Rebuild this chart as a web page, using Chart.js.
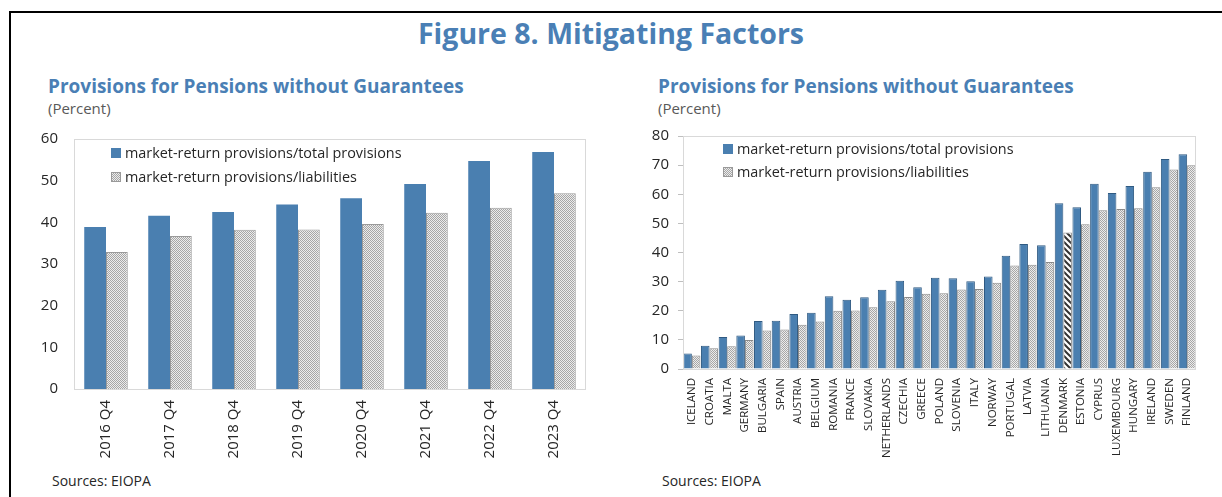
<!DOCTYPE html>
<html>
<head>
<meta charset="utf-8">
<script src="https://cdn.jsdelivr.net/npm/chart.js@4.4.1/dist/chart.umd.min.js"></script>
<style>
  html, body { margin: 0; padding: 0; background: #fff; }
  body { width: 1222px; height: 497px; position: relative; overflow: hidden; font-family: "Open Sans", "Noto Sans", sans-serif; }
  .frame-top { position: absolute; left: 10px; top: 11px; width: 1212px; height: 2px; background: #000; }
  .frame-left { position: absolute; left: 9px; top: 11px; width: 2px; height: 486px; background: #000; }
  .main-title { position: absolute; left: 0; width: 1222px; top: 14px; text-align: center; font-weight: 700; font-size: 28.5px; color: #4a7fb5; }
  .sub { position: absolute; font-weight: 700; font-size: 19px; color: #4a7fb5; }
  .unit { position: absolute; font-size: 15px; color: #595959; }
  .src { position: absolute; font-size: 14px; color: #262626; }
  .leg { position: absolute; font-size: 14.4px; color: #262626; white-space: nowrap; }
  .sw { position: absolute; width: 10px; height: 10px; }
  .sw-blue { background: #4a7fb0; border: 0; }
  .sw-gray { background: repeating-conic-gradient(#a6a6a6 0 25%, #ececec 0 50%) 0 0/2px 2px; outline: 1px solid #9a9a9a; outline-offset: -1px; }
  canvas { position: absolute; }
</style>
</head>
<body>
<div class="frame-top"></div>
<div class="frame-left"></div>
<div class="main-title">Figure 8. Mitigating Factors</div>

<div class="sub" style="left:48px; top:73px;">Provisions for Pensions without Guarantees</div>
<div class="unit" style="left:48px; top:98px;">(Percent)</div>
<div class="sub" style="left:658px; top:73px;">Provisions for Pensions without Guarantees</div>
<div class="unit" style="left:658px; top:98px;">(Percent)</div>

<div style="position:absolute; left:0; top:114px; width:600px; height:356px;"><canvas id="c1" width="600" height="356"></canvas></div>
<div style="position:absolute; left:610px; top:118px; width:612px; height:352px;"><canvas id="c2" width="612" height="352"></canvas></div>

<div class="sw sw-blue" style="left:111px; top:148px;"></div>
<div class="leg" style="left:125px; top:143px;">market-return provisions/total provisions</div>
<div class="sw sw-gray" style="left:111px; top:172px;"></div>
<div class="leg" style="left:125px; top:167px;">market-return provisions/liabilities</div>

<div class="sw sw-blue" style="left:723px; top:144px;"></div>
<div class="leg" style="left:737px; top:139px;">market-return provisions/total provisions</div>
<div class="sw sw-gray" style="left:723px; top:167px;"></div>
<div class="leg" style="left:737px; top:162px;">market-return provisions/liabilities</div>

<div class="src" style="left:52px; top:471px;">Sources: EIOPA</div>
<div class="src" style="left:662px; top:471px;">Sources: EIOPA</div>

<script>
// ---- Data ----
const quarters = ["2016 Q4","2017 Q4","2018 Q4","2019 Q4","2020 Q4","2021 Q4","2022 Q4","2023 Q4"];
const qTotalProv = [38.9, 41.6, 42.5, 44.3, 45.8, 49.2, 54.7, 56.9];
const qLiabilities = [32.9, 36.7, 38.2, 38.3, 39.6, 42.3, 43.5, 47.0];

const countries = ["ICELAND","CROATIA","MALTA","GERMANY","BULGARIA","SPAIN","AUSTRIA","BELGIUM","ROMANIA","FRANCE","SLOVAKIA","NETHERLANDS","CZECHIA","GREECE","POLAND","SLOVENIA","ITALY","NORWAY","PORTUGAL","LATVIA","LITHUANIA","DENMARK","ESTONIA","CYPRUS","LUXEMBOURG","HUNGARY","IRELAND","SWEDEN","FINLAND"];
const cTotalProv = [5.3, 8.0, 11.0, 11.5, 16.5, 16.6, 18.9, 19.3, 25.0, 23.8, 24.6, 27.2, 30.3, 28.1, 31.3, 31.2, 30.1, 31.8, 38.9, 42.9, 42.5, 56.9, 55.5, 63.6, 60.4, 62.8, 67.7, 72.1, 73.7];
const cLiabilities = [4.6, 7.1, 7.8, 10.0, 13.2, 13.6, 15.2, 16.3, 20.0, 20.1, 21.2, 23.3, 24.7, 25.8, 26.0, 27.3, 27.5, 29.6, 35.5, 35.8, 36.7, 46.9, 49.7, 54.5, 54.9, 55.2, 62.4, 68.5, 70.0];
const highlightCountry = "DENMARK";

const leftTicks = { min: 0, max: 60, step: 10 };
const rightTicks = { min: 0, max: 80, step: 10 };

// ---- Styles ----
const BLUE = "#4a7fb0";
const FONT = "'Open Sans', 'Noto Sans', sans-serif";
const TXT = "#262626";

function checker() {
  const c = document.createElement("canvas");
  c.width = 2; c.height = 2;
  const x = c.getContext("2d");
  x.fillStyle = "#ececec"; x.fillRect(0,0,2,2);
  x.fillStyle = "#a6a6a6"; x.fillRect(0,0,1,1); x.fillRect(1,1,1,1);
  return x.createPattern(c, "repeat");
}
function stripes() {
  const c = document.createElement("canvas");
  c.width = 6; c.height = 6;
  const x = c.getContext("2d");
  x.fillStyle = "#ffffff"; x.fillRect(0,0,6,6);
  x.strokeStyle = "#333333"; x.lineWidth = 2;
  x.beginPath();
  x.moveTo(-1,-1); x.lineTo(7,7);
  x.moveTo(-4,2); x.lineTo(4,10);
  x.moveTo(2,-4); x.lineTo(10,4);
  x.stroke();
  return x.createPattern(c, "repeat");
}
const grayPat = checker();
const stripePat = stripes();

const boxPlugin = {
  id: "box",
  afterDraw(chart) {
    const a = chart.chartArea, ctx = chart.ctx;
    ctx.save();
    ctx.strokeStyle = "#d9d9d9";
    ctx.lineWidth = 1;
    ctx.strokeRect(Math.round(a.left)+0.5, Math.round(a.top)+0.5, Math.round(a.right-a.left)-1, Math.round(a.bottom-a.top));
    ctx.restore();
  }
};

Chart.defaults.font.family = FONT;
Chart.defaults.color = TXT;

// Left chart
new Chart(document.getElementById("c1"), {
  type: "bar",
  data: {
    labels: quarters,
    datasets: [
      { label: "market-return provisions/total provisions", data: qTotalProv, backgroundColor: BLUE, borderColor: "#41729f", borderWidth: 0 },
      { label: "market-return provisions/liabilities", data: qLiabilities, backgroundColor: grayPat, borderColor: "#9a9a9a", borderWidth: 1 }
    ]
  },
  options: {
    responsive: false, animation: false,
    layout: { padding: { top: 1, right: 14, bottom: 1, left: 0 } },
    plugins: { legend: { display: false }, tooltip: { enabled: false } },
    datasets: { bar: { categoryPercentage: 0.68, barPercentage: 1.0 } },
    scales: {
      x: {
        grid: { display: false, drawTicks: false },
        border: { display: false },
        ticks: { minRotation: 90, maxRotation: 90, padding: 11, font: { size: 15 }, color: TXT },
        afterFit(s) { s.height = 80; }
      },
      y: {
        min: leftTicks.min, max: leftTicks.max,
        grid: { display: false, drawTicks: false },
        border: { display: false },
        ticks: { stepSize: leftTicks.step, padding: 16, font: { size: 15 }, color: TXT },
        afterFit(s) { s.width = 74; }
      }
    }
  },
  plugins: [boxPlugin]
});

// Right chart
new Chart(document.getElementById("c2"), {
  type: "bar",
  data: {
    labels: countries,
    datasets: [
      { label: "market-return provisions/total provisions", data: cTotalProv, backgroundColor: BLUE, borderColor: "#2f5a82", borderWidth: 1 },
      { label: "market-return provisions/liabilities", data: cLiabilities,
        backgroundColor: countries.map(c => c === highlightCountry ? stripePat : grayPat),
        borderColor: "#8a8a8a", borderWidth: 1 }
    ]
  },
  options: {
    responsive: false, animation: false,
    layout: { padding: { top: 4, right: 26, bottom: 1, left: 0 } },
    plugins: { legend: { display: false }, tooltip: { enabled: false } },
    datasets: { bar: { categoryPercentage: 0.97, barPercentage: 1.0 } },
    scales: {
      x: {
        grid: { display: false, drawTicks: false },
        border: { display: false },
        ticks: { minRotation: 90, maxRotation: 90, autoSkip: false, padding: 9, font: { size: 11.5 }, color: TXT },
        afterFit(s) { s.height = 100; }
      },
      y: {
        min: rightTicks.min, max: rightTicks.max,
        grid: { display: true, drawOnChartArea: false, drawTicks: true, tickLength: 5, color: "#bfbfbf" },
        border: { display: false },
        ticks: { stepSize: rightTicks.step, padding: 9, font: { size: 15 }, color: TXT },
        afterFit(s) { s.width = 73; }
      }
    }
  },
  plugins: [boxPlugin]
});
</script>
</body>
</html>
